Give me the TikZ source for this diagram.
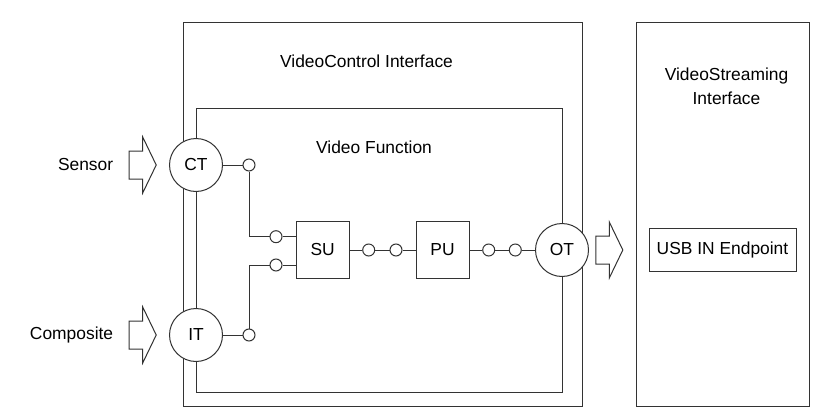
\documentclass[tikz,border=0pt]{standalone}
\usepackage{fontspec}
\setmainfont{Liberation Sans}
\begin{document}
\begin{tikzpicture}[x=1pt,y=-1pt,line width=1pt,draw=black!80,
	font=\fontsize{17.4}{24}\selectfont,
	frame/.style={draw=black!80,inner sep=0pt},
	term/.style={draw=black!80,fill=white,circle,minimum size=53pt,inner sep=0pt},
	unit/.style={draw=black!80,fill=white,minimum width=53pt,minimum height=57pt,inner sep=0pt},
	port/.style={draw=black!80,fill=white,circle,minimum size=12pt,inner sep=0pt},
	inarrow/.pic={\draw[black!80,fill=white] (-13.5,-14) -- (0,-14) -- (0,-28) -- (13.5,0) -- (0,28) -- (0,14) -- (-13.5,14) -- cycle;}]
	\useasboundingbox (0,0) rectangle (816,412);
	\node[frame,minimum width=399pt,minimum height=383pt] (vc) at (382.5,214.5) {};
	\node[frame,minimum width=366pt,minimum height=284pt] (vf) at (379,250) {};
	\node[frame,minimum width=173pt,minimum height=383pt] (vs) at (722.5,214.5) {};
	\node (vctext) at (366.5,61) {VideoControl Interface};
	\node (vftext) at (374,147.5) {Video Function};
	\node[align=center] (vstext) at (726.5,86) {VideoStreaming\\Interface};
	\node[anchor=east] (sensor) at (117,165) {Sensor};
	\node[anchor=east] (composite) at (117,335) {Composite};
	\node[term] (ct) at (196,165) {CT};
	\node[term] (it) at (196,335) {IT};
	\node[unit] (su) at (322.7,250) {SU};
	\node[unit] (pu) at (442.5,250) {PU};
	\node[term] (ot) at (562,250) {OT};
	\node[frame,minimum width=147pt,minimum height=43pt] (usb) at (722.5,250) {USB IN Endpoint};
	\node[port] (ctport) at (249,165) {};
	\node[port] (suin1) at (276,236.7) {};
	\node[port] (suin2) at (276,265) {};
	\node[port] (itport) at (249,335) {};
	\node[port] (suout) at (368.7,250) {};
	\node[port] (puin) at (396,250) {};
	\node[port] (puout) at (488.7,250) {};
	\node[port] (otin) at (515.3,250) {};
	\draw (ct) -- (ctport);
	\draw (ctport) |- (suin1);
	\draw (suin1) -- (suin1 -| su.west);
	\draw (it) -- (itport);
	\draw (itport) |- (suin2);
	\draw (suin2) -- (suin2 -| su.west);
	\draw (su) -- (suout) -- (puin) -- (pu) -- (puout) -- (otin) -- (ot);
	\pic at (142.7,165) {inarrow};
	\pic at (142.7,335) {inarrow};
	\pic at (609.3,250) {inarrow};
\end{tikzpicture}
\end{document}
